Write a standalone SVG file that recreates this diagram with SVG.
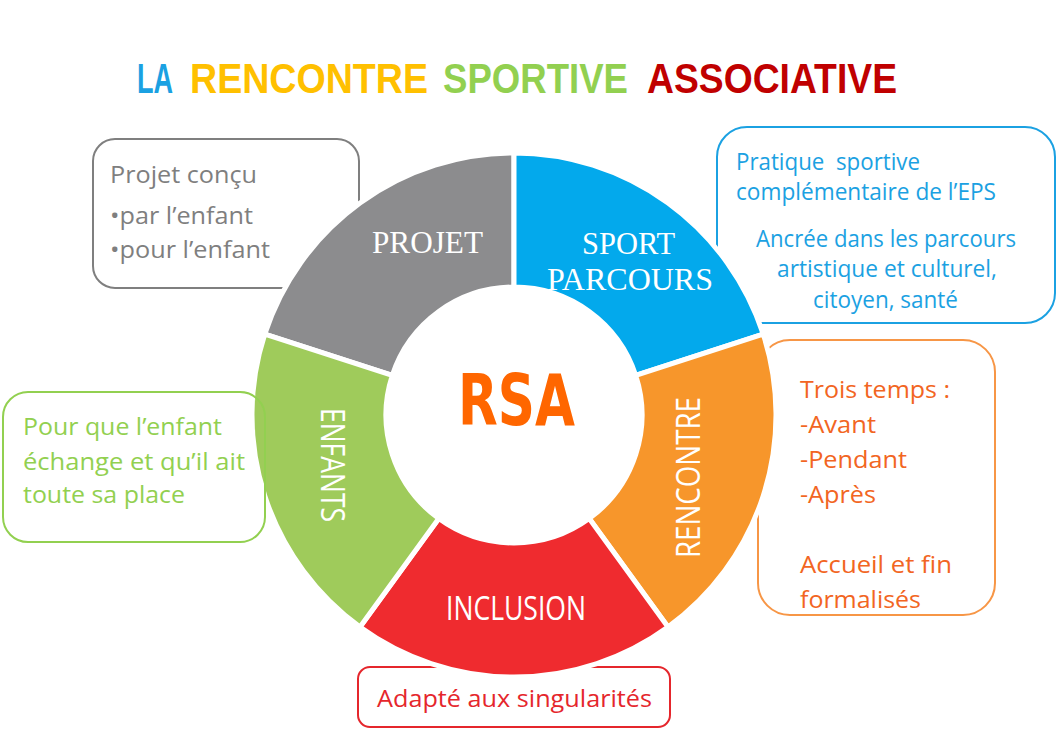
<svg xmlns="http://www.w3.org/2000/svg" width="1063" height="732" viewBox="0 0 1063 732">
<style>
.box{fill:none;stroke-width:2}
.t{font-family:"Open Sans","Noto Sans","Liberation Sans",sans-serif;font-size:24px}
.seg{stroke:#fff;stroke-width:5;stroke-linejoin:miter}
.serif{font-family:"Liberation Serif","DejaVu Serif",serif;font-size:32px;fill:#fff}
.sans{font-family:"Open Sans","Noto Sans",sans-serif;font-size:32px;fill:#fff}
.title{font-family:"Liberation Sans","Arial",sans-serif;font-weight:bold;font-size:37px}
</style>
<rect width="1063" height="732" fill="#fff"/>
<g id="title">
<text class="title" transform="translate(137 93) scale(1 1.13)" x="0" y="0" fill="#1BA1E2" textLength="36" lengthAdjust="spacingAndGlyphs">LA</text>
<text class="title" transform="translate(190 93) scale(1 1.13)" x="0" y="0" fill="#FFC000" textLength="238" lengthAdjust="spacingAndGlyphs">RENCONTRE</text>
<text class="title" transform="translate(443 93) scale(1 1.13)" x="0" y="0" fill="#92D050" textLength="185" lengthAdjust="spacingAndGlyphs">SPORTIVE</text>
<text class="title" transform="translate(647 93) scale(1 1.13)" x="0" y="0" fill="#C00000" textLength="250" lengthAdjust="spacingAndGlyphs">ASSOCIATIVE</text>
</g>
<g id="box-projet">
<rect class="box" x="93" y="139" width="266" height="149" rx="22" stroke="#7F7F7F"/>
<g class="t" fill="#7F7F7F">
<text x="110" y="183" textLength="147" lengthAdjust="spacingAndGlyphs">Projet conçu</text>
<text x="110" y="224" textLength="143" lengthAdjust="spacingAndGlyphs">•par l’enfant</text>
<text x="110" y="258" textLength="160" lengthAdjust="spacingAndGlyphs">•pour l’enfant</text>
</g>
</g>
<g id="box-sport">
<rect class="box" x="717" y="127" width="338" height="196" rx="30" stroke="#1BA1E2"/>
<g class="t" fill="#1BA1E2" font-size="22">
<text x="736" y="170" textLength="184" lengthAdjust="spacingAndGlyphs" xml:space="preserve">Pratique  sportive</text>
<text x="736" y="200" textLength="260" lengthAdjust="spacingAndGlyphs">complémentaire de l’EPS</text>
<text x="756" y="247" textLength="260" lengthAdjust="spacingAndGlyphs">Ancrée dans les parcours</text>
<text x="777" y="277" textLength="220" lengthAdjust="spacingAndGlyphs">artistique et culturel,</text>
<text x="813" y="308" textLength="145" lengthAdjust="spacingAndGlyphs">citoyen, santé</text>
</g>
</g>
<g id="box-rencontre">
<rect class="box" x="758" y="340" width="237" height="275" rx="32" stroke="#F79646"/>
<g class="t" fill="#F26522">
<text x="800" y="398" textLength="150" lengthAdjust="spacingAndGlyphs">Trois temps :</text>
<text x="800" y="433" textLength="76" lengthAdjust="spacingAndGlyphs">-Avant</text>
<text x="800" y="468" textLength="107" lengthAdjust="spacingAndGlyphs">-Pendant</text>
<text x="800" y="503" textLength="76" lengthAdjust="spacingAndGlyphs">-Après</text>
<text x="800" y="573" textLength="152" lengthAdjust="spacingAndGlyphs">Accueil et fin</text>
<text x="800" y="608" textLength="121" lengthAdjust="spacingAndGlyphs">formalisés</text>
</g>
</g>
<g id="box-inclusion">
<rect class="box" x="358" y="667" width="312" height="60" rx="12" stroke="#E5262C"/>
<text class="t" x="377" y="707" fill="#E5262C" textLength="275" lengthAdjust="spacingAndGlyphs">Adapté aux singularités</text>
</g>
<g id="ring">
<g id="seg-projet">
<path class="seg" fill="#8C8C8E" d="M264.82 334.04 A262 262 0 0 1 514 153 L514 287 A128 128 0 0 0 392.26 375.45 Z"/>
<text class="serif" x="427.5" y="253" text-anchor="middle" textLength="111" lengthAdjust="spacingAndGlyphs">PROJET</text>
</g>
<g id="seg-sport">
<path class="seg" fill="#03A9EC" d="M514 153 A262 262 0 0 1 763.18 334.04 L635.74 375.45 A128 128 0 0 0 514 287 Z"/>
<text class="serif" x="628.5" y="254" text-anchor="middle" textLength="93" lengthAdjust="spacingAndGlyphs">SPORT</text>
<text class="serif" x="630" y="290" text-anchor="middle" textLength="166" lengthAdjust="spacingAndGlyphs">PARCOURS</text>
</g>
<g id="seg-rencontre">
<path class="seg" fill="#F7962B" d="M763.18 334.04 A262 262 0 0 1 668 626.96 L589.24 518.55 A128 128 0 0 0 635.74 375.45 Z"/>
<text class="sans" transform="translate(687.5 477.5) rotate(-90)" x="0" y="12" text-anchor="middle" textLength="161" lengthAdjust="spacingAndGlyphs">RENCONTRE</text>
</g>
<g id="seg-inclusion">
<path class="seg" fill="#EF2B2F" d="M668 626.96 A262 262 0 0 1 360 626.96 L438.76 518.55 A128 128 0 0 0 589.24 518.55 Z"/>
<text class="sans" x="516" y="620" font-size="31" text-anchor="middle" textLength="140" lengthAdjust="spacingAndGlyphs">INCLUSION</text>
</g>
<g id="seg-enfants">
<path class="seg" fill="#9FCB5B" d="M360 626.96 A262 262 0 0 1 264.82 334.04 L392.26 375.45 A128 128 0 0 0 438.76 518.55 Z"/>
<text class="sans" transform="translate(332.5 465) rotate(90)" x="0" y="12" text-anchor="middle" textLength="114" lengthAdjust="spacingAndGlyphs">ENFANTS</text>
</g>
</g>
<g id="center">
<text x="516.5" y="425" text-anchor="middle" font-family="'DejaVu Sans','Liberation Sans',sans-serif" font-weight="bold" font-size="71" fill="#FF6600" textLength="117" lengthAdjust="spacingAndGlyphs">RSA</text>
</g>
<g id="box-enfants">
<rect class="box" x="3" y="392" width="262" height="150" rx="25" stroke="#92D050"/>
<g class="t" fill="#92D050">
<text x="23" y="435" textLength="199" lengthAdjust="spacingAndGlyphs">Pour que l’enfant</text>
<text x="23" y="470" textLength="222" lengthAdjust="spacingAndGlyphs">échange et qu’il ait</text>
<text x="23" y="503" textLength="162" lengthAdjust="spacingAndGlyphs">toute sa place</text>
</g>
</g>
<g id="connectors"/>
</svg>
